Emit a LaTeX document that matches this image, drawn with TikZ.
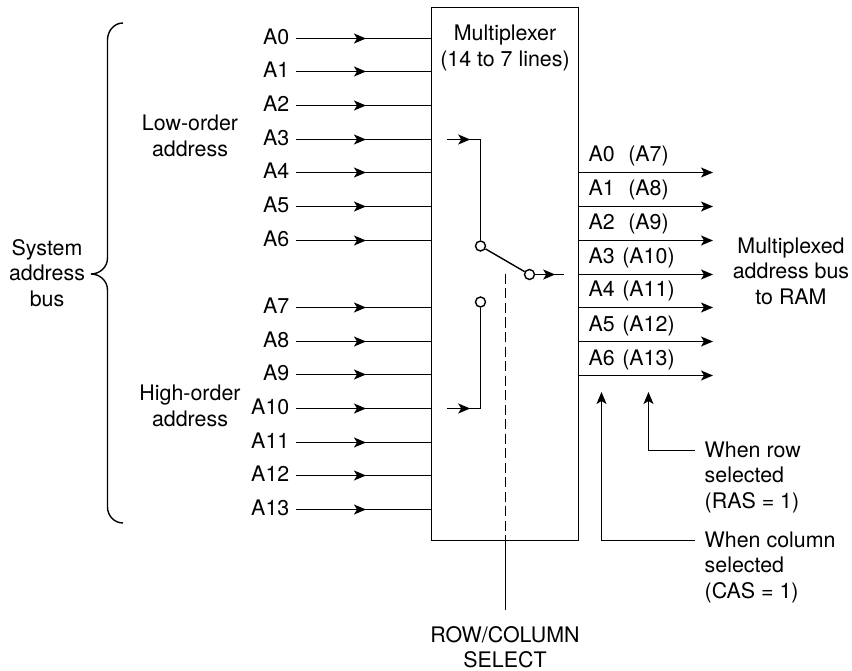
\documentclass[tikz,border=0pt]{standalone}
\usepackage{fontspec}
\setmainfont{TeX Gyre Heros}
\usetikzlibrary{arrows.meta,decorations.markings}
\tikzset{
    every node/.style={font=\fontsize{21.4}{25.6}\selectfont, inner sep=0pt},
    every path/.style={line width=1.4pt},
    tiphead/.tip={Stealth[length=12pt,width=10pt,inset=3pt]},
    tipat/.style={postaction={decorate,decoration={markings,mark=at position #1 with {\arrow{tiphead}}}}},
    inlabel/.style={anchor=east, inner xsep=6pt, text depth=3pt},
    contact/.style={circle, draw, fill=white, minimum size=10pt},
    textblock/.style={align=center},
    noteblock/.style={align=left, anchor=north west}
}
\begin{document}
\begin{tikzpicture}[x=1pt,y=-1pt]
    \useasboundingbox (0,0) rectangle (852,671);
    % Multiplexer box
    \node[draw, outer sep=0pt, minimum width=147pt, minimum height=533pt] (mux) at (505,274) {};
    \node[textblock] (muxtext) at (505,48) {Multiplexer\\(14 to 7 lines)};
    % Input lines
    \foreach \n/\y in {0/38.5,1/71.5,2/105.5,3/139.5,4/172.5,5/206.5,6/240.5,7/307.5,8/341.5,9/374.5,10/408.5,11/442.5,12/475.5,13/509.5} {
        \node[inlabel] (in\n) at (296,\y) {A\n};
        \draw[tipat=70pt] (in\n.east) -- (in\n.east -| mux.west);
    }
    % Brace
    \coordinate (bracetop) at (123,23);
    \coordinate (bracebot) at (123,523);
    \coordinate (bracetip) at (91,274);
    \draw (bracetop) to [out=180,in=90] (107.5,40) -- (107.5,258) to [out=-90,in=0] (bracetip)
        to [out=0,in=90] (107.5,290) -- (107.5,507) to [out=-90,in=180] (bracebot);
    \node[textblock] (system) at (47,273) {System\\address\\bus};
    \node[textblock] (low) at (190,136) {Low-order\\address};
    \node[textblock] (high) at (190,406) {High-order\\address};
    % Switch
    \coordinate (lowin) at (446.7,139.5);
    \coordinate (highin) at (446.7,408.5);
    \coordinate (lowbend) at (480.5,139.5);
    \coordinate (highbend) at (480.5,408.5);
    \coordinate (swout) at (564,274.5);
    \node[contact] (swlow) at (480.5,246) {};
    \node[contact] (swhigh) at (480.5,302) {};
    \node[contact] (swarm) at (529.5,274.5) {};
    \draw[tipat=23.5pt] (lowin) -- (lowbend);
    \draw (lowbend) -- (swlow);
    \draw[tipat=23.5pt] (highin) -- (highbend);
    \draw (highbend) -- (swhigh);
    \draw (swlow) -- (swarm);
    \draw[tipat=20pt] (swarm) -- (swout);
    % Select line
    \coordinate (seltop) at (505.5,274);
    \node[textblock] (select) at (505,647) {ROW/COLUMN\\SELECT};
    \coordinate (selbot) at (505.5,610);
    \draw[dashed, dash pattern=on 10pt off 4.5pt] (seltop) -- (seltop |- mux.south);
    \draw (seltop |- mux.south) -- (selbot);
    % Output lines
    \foreach \n/\m/\y in {0/7/172.5,1/8/206.5,2/9/240.5,3/10/274.5,4/11/307.5,5/12/341.5,6/13/375.5} {
        \coordinate (outend\n) at (713,\y);
        \draw[-tiphead] (mux.east |- outend\n) -- (outend\n);
        \node[anchor=base west] (outa\n) at (588,\y-10.5) {A\n};
        \node[anchor=base] (outb\n) at (648.5,\y-10.5) {(A\m)};
    }
    \node[textblock] (bustext) at (791,271) {Multiplexed\\address bus\\to RAM};
    % Notes
    \node[noteblock] (rownote) at (704,441) {When row\\selected\\(RAS = 1)};
    \node[noteblock] (colnote) at (704,531) {When column\\selected\\(CAS = 1)};
    \coordinate (rowtip) at (648.5,392);
    \coordinate (coltip) at (601.5,392);
    \coordinate (rowfoot) at (695,450.5);
    \coordinate (colfoot) at (695,540.5);
    \draw[-tiphead] (rowfoot) -| (rowtip);
    \draw[-tiphead] (colfoot) -| (coltip);
\end{tikzpicture}
\end{document}
